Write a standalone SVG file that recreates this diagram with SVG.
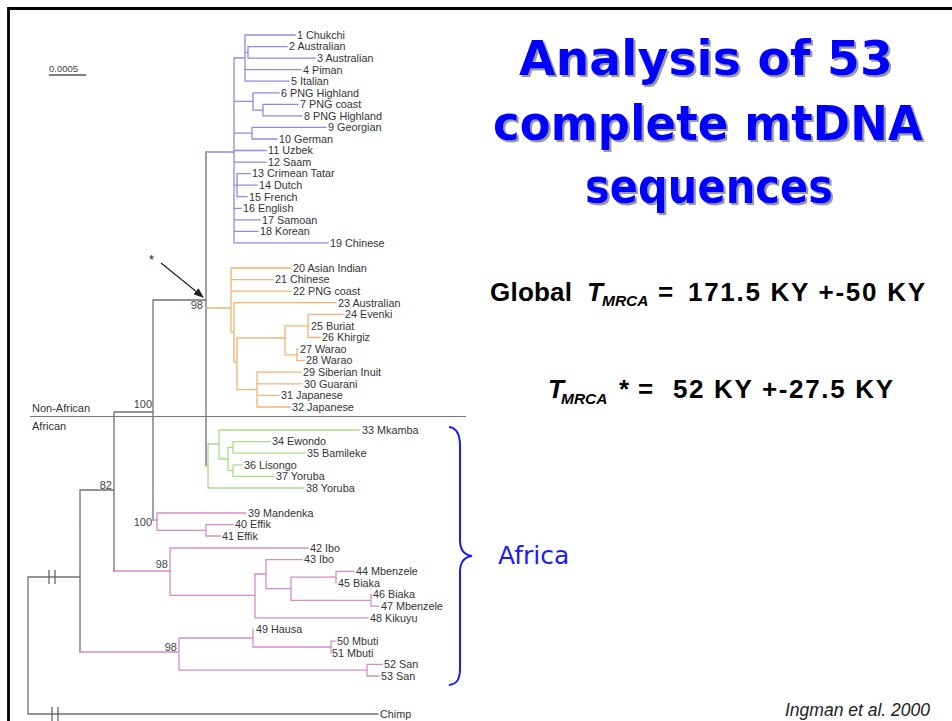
<svg xmlns="http://www.w3.org/2000/svg" width="952" height="721" viewBox="0 0 952 721">
<style>
.lf{font-family:"Liberation Sans",Arial,sans-serif;font-size:10.8px;fill:#333}
.bs{font-family:"Liberation Sans",Arial,sans-serif;font-size:11px;fill:#444;text-anchor:end}
.br{fill:none;stroke-width:1.3;stroke-linecap:square}
.gy{stroke:#707070}.bl{stroke:#8c8ce0}.or{stroke:#f6b274}.gr{stroke:#a8de8c}.pk{stroke:#d48ccb}
.tt{font-family:"Comic Sans MS","DejaVu Sans",sans-serif;font-weight:bold;font-size:48px;fill:#0000ff}
.eq{font-family:"Liberation Sans",Arial,sans-serif;font-weight:bold;font-size:26px;fill:#000}
.sub{font-family:"Liberation Sans",Arial,sans-serif;font-weight:bold;font-style:italic;font-size:15.5px;fill:#000}
</style>
<defs>
<marker id="ah" markerWidth="10" markerHeight="8" refX="9" refY="4" orient="auto" markerUnits="userSpaceOnUse">
<path d="M0,0 L10,4 L0,8 z" fill="#222"/>
</marker>
<filter id="sh" x="-5%" y="-10%" width="110%" height="130%">
<feOffset in="SourceAlpha" dx="2" dy="2" result="o"/>
<feFlood flood-color="#9a9a9a"/>
<feComposite in2="o" operator="in" result="s"/>
<feMerge><feMergeNode in="s"/><feMergeNode in="SourceGraphic"/></feMerge>
</filter>
</defs>
<rect width="952" height="721" fill="#fff"/>
<path d="M8.5,721 V8.5 H952" fill="none" stroke="#000" stroke-width="2.8"/>

<g id="scale">
<text x="49" y="72" font-family="Liberation Sans,Arial,sans-serif" font-size="9.5" fill="#444">0.0005</text>
<line x1="49" y1="75" x2="86" y2="75" stroke="#555" stroke-width="1.3"/>
</g>

<g id="connectors">
<path class="br gy" d="M206,152 V466 M153,300 H206 M153,300 V520 M114,412 H153 M114,412 V571 M80,490 H114 M80,490 V652 M28,577 H80 M28,577 V714 M28,714 H378"/>
<path d="M30,416.5 H466" stroke="#777" stroke-width="1.2"/>
<path class="br bl" d="M206,152 H234 M234,58 V242.9 M234,58 H245 M245,35 V81.2 M245,35 H295 M245,52.3 H248 M248,46.6 V58.1 M248,46.6 H287 M248,58.1 H315 M245,69.7 H301 M245,81.2 H289 M234,101.4 H253 M253,92.8 V110.1 M253,92.8 H279 M253,110.1 H263 M263,104.3 V115.9 M263,104.3 H298 M263,115.9 H302 M234,133.2 H252 M252,127.4 V139 M252,127.4 H326 M252,139 H277 M234,150.5 H266 M234,162.1 H266 M234,185.2 H237 M237,173.6 V196.7 M237,173.6 H250 M237,185.2 H257 M237,196.7 H247 M234,208.3 H241 M234,219.8 H260 M234,231.4 H258 M234,242.9 H328"/>
<path class="br or" d="M206,308 H231 M231,268 V332 M231,268 H291 M231,279.6 H273 M231,291.2 H291 M231,332 H234 M234,302.7 V362 M234,302.7 H336 M234,362 H237 M237,338 V389.6 M237,338 H285 M285,325.9 V354.9 M285,325.9 H308 M308,314.3 V337.5 M308,314.3 H343 M308,325.9 H309 M308,337.5 H320 M285,354.9 H297 M297,349.1 V360.6 M297,349.1 H298 M297,360.6 H304 M237,389.6 H257 M257,372.2 V407 M257,372.2 H301 M257,383.8 H302 M257,395.4 H279 M257,407 H290"/>
<path class="br gr" d="M206,466 H208 M208,444 V488 M208,444 H219 M219,430 V459 M219,430 H360 M219,459 H228 M228,447.4 V470.6 M228,447.4 H233 M233,441.6 V453.2 M233,441.6 H270 M233,453.2 H305 M228,470.6 H233 M233,464.8 V476.4 M233,464.8 H242 M233,476.4 H274 M208,488 H304"/>
<path class="br pk" d="M153,520 H157 M157,513 V530.3 M157,513 H246 M157,530.3 H206 M206,524.6 V536 M206,524.6 H233 M206,536 H220 M114,571 H170 M170,548 V595.4 M170,548 H308 M170,595.4 H255 M255,574 V617.8 M255,617.8 H368 M255,574 H266 M266,559.6 V588.7 M266,559.6 H302 M266,588.7 H291 M291,577.1 V600.3 M291,577.1 H336 M336,571.3 V582.9 M336,571.3 H354 M291,600.3 H371 M371,594.5 V606.2 M371,606.2 H379 M80,652 H179 M179,638 V670.2 M179,638 H253 M253,629.5 V647 M253,647 H331 M331,641.1 V652.8 M331,641.1 H335 M179,670.2 H367 M367,664.4 V676 M367,664.4 H382 M367,676 H379"/>
<g stroke="#666" stroke-width="1.3">
<line x1="49" y1="570" x2="49" y2="584"/><line x1="55" y1="570" x2="55" y2="584"/>
<line x1="52" y1="707" x2="52" y2="721"/><line x1="58" y1="707" x2="58" y2="721"/>
</g>
<line x1="161" y1="263" x2="203" y2="297" stroke="#222" stroke-width="1.2" marker-end="url(#ah)"/>
</g>

<g id="regions">
<text x="32" y="412" font-family="Liberation Sans,Arial,sans-serif" font-size="11" fill="#333">Non-African</text>
<text x="32" y="430" font-family="Liberation Sans,Arial,sans-serif" font-size="11" fill="#333">African</text>
</g>

<g id="bootstrap">
<text class="bs" x="203" y="309">98</text>
<text class="bs" x="152" y="408">100</text>
<text class="bs" x="112" y="489">82</text>
<text class="bs" x="152" y="526">100</text>
<text class="bs" x="168" y="568">98</text>
<text class="bs" x="177" y="651">98</text>
<text x="149" y="264" font-family="Liberation Sans,Arial,sans-serif" font-size="13" fill="#222">*</text>
</g>

<g id="leaves">
<g id="n1"><text class="lf" x="297" y="38.8">1 Chukchi</text></g>
<g id="n2"><text class="lf" x="289" y="50.4">2 Australian</text></g>
<g id="n3"><text class="lf" x="317" y="61.9">3 Australian</text></g>
<g id="n4"><text class="lf" x="303" y="73.5">4 Piman</text></g>
<g id="n5"><text class="lf" x="291" y="85">5 Italian</text></g>
<g id="n6"><text class="lf" x="281" y="96.6">6 PNG Highland</text></g>
<g id="n7"><text class="lf" x="300" y="108.1">7 PNG coast</text></g>
<g id="n8"><text class="lf" x="304" y="119.7">8 PNG Highland</text></g>
<g id="n9"><text class="lf" x="328" y="131.2">9 Georgian</text></g>
<g id="n10"><text class="lf" x="279" y="142.8">10 German</text></g>
<g id="n11"><text class="lf" x="268" y="154.3">11 Uzbek</text></g>
<g id="n12"><text class="lf" x="268" y="165.9">12 Saam</text></g>
<g id="n13"><text class="lf" x="252" y="177.4">13 Crimean Tatar</text></g>
<g id="n14"><text class="lf" x="259" y="189">14 Dutch</text></g>
<g id="n15"><text class="lf" x="249" y="200.5">15 French</text></g>
<g id="n16"><text class="lf" x="243" y="212.1">16 English</text></g>
<g id="n17"><text class="lf" x="262" y="223.6">17 Samoan</text></g>
<g id="n18"><text class="lf" x="260" y="235.2">18 Korean</text></g>
<g id="n19"><text class="lf" x="330" y="246.7">19 Chinese</text></g>
<g id="n20"><text class="lf" x="293" y="271.8">20 Asian Indian</text></g>
<g id="n21"><text class="lf" x="275" y="283.4">21 Chinese</text></g>
<g id="n22"><text class="lf" x="293" y="295">22 PNG coast</text></g>
<g id="n23"><text class="lf" x="338" y="306.5">23 Australian</text></g>
<g id="n24"><text class="lf" x="345" y="318.1">24 Evenki</text></g>
<g id="n25"><text class="lf" x="311" y="329.7">25 Buriat</text></g>
<g id="n26"><text class="lf" x="322" y="341.3">26 Khirgiz</text></g>
<g id="n27"><text class="lf" x="300" y="352.9">27 Warao</text></g>
<g id="n28"><text class="lf" x="306" y="364.4">28 Warao</text></g>
<g id="n29"><text class="lf" x="303" y="376">29 Siberian Inuit</text></g>
<g id="n30"><text class="lf" x="304" y="387.6">30 Guarani</text></g>
<g id="n31"><text class="lf" x="281" y="399.2">31 Japanese</text></g>
<g id="n32"><text class="lf" x="292" y="410.8">32 Japanese</text></g>
<g id="n33"><text class="lf" x="362" y="433.8">33 Mkamba</text></g>
<g id="n34"><text class="lf" x="272" y="445.4">34 Ewondo</text></g>
<g id="n35"><text class="lf" x="307" y="457">35 Bamileke</text></g>
<g id="n36"><text class="lf" x="244" y="468.6">36 Lisongo</text></g>
<g id="n37"><text class="lf" x="276" y="480.2">37 Yoruba</text></g>
<g id="n38"><text class="lf" x="306" y="491.8">38 Yoruba</text></g>
<g id="n39"><text class="lf" x="248" y="516.8">39 Mandenka</text></g>
<g id="n40"><text class="lf" x="235" y="528.4">40 Effik</text></g>
<g id="n41"><text class="lf" x="222" y="539.8">41 Effik</text></g>
<g id="n42"><text class="lf" x="310" y="551.8">42 Ibo</text></g>
<g id="n43"><text class="lf" x="304" y="563.4">43 Ibo</text></g>
<g id="n44"><text class="lf" x="356" y="575.1">44 Mbenzele</text></g>
<g id="n45"><text class="lf" x="338" y="586.7">45 Biaka</text></g>
<g id="n46"><text class="lf" x="373" y="598.3">46 Biaka</text></g>
<g id="n47"><text class="lf" x="381" y="610">47 Mbenzele</text></g>
<g id="n48"><text class="lf" x="370" y="621.6">48 Kikuyu</text></g>
<g id="n49"><text class="lf" x="256" y="633.3">49 Hausa</text></g>
<g id="n50"><text class="lf" x="337" y="644.9">50 Mbuti</text></g>
<g id="n51"><text class="lf" x="332" y="656.6">51 Mbuti</text></g>
<g id="n52"><text class="lf" x="384" y="668.2">52 San</text></g>
<g id="n53"><text class="lf" x="381" y="679.8">53 San</text></g>
<g id="chimp"><text class="lf" x="380" y="717.8">Chimp</text></g>
</g>

<g id="title" filter="url(#sh)">
<text class="tt" x="519" y="75" textLength="374" lengthAdjust="spacingAndGlyphs">Analysis of 53</text>
<text class="tt" x="493" y="140" textLength="430" lengthAdjust="spacingAndGlyphs">complete mtDNA</text>
<text class="tt" x="585" y="203" textLength="248" lengthAdjust="spacingAndGlyphs">sequences</text>
</g>

<g id="eq1">
<text class="eq" x="490" y="301" textLength="82">Global</text>
<text class="eq" x="587" y="301" font-style="italic">T</text>
<text class="sub" x="602" y="306">MRCA</text>
<text class="eq" x="658" y="301">=</text>
<text class="eq" x="688" y="301" textLength="237">171.5 KY +-50 KY</text>
</g>
<g id="eq2">
<text class="eq" x="548" y="398" font-style="italic">T</text>
<text class="sub" x="561" y="404">MRCA</text>
<text class="eq" x="619" y="398">*</text>
<text class="eq" x="638" y="398">=</text>
<text class="eq" x="673" y="398" textLength="220">52 KY +-27.5 KY</text>
</g>

<g id="africa">
<path d="M449,427 C458,428 460,436 460,446 V540 C460,550 464,555 472,556 C464,557 460,562 460,572 V668 C460,678 458,684 449,685" fill="none" stroke="#1a1aff" stroke-width="2"/>
<text x="498" y="564" font-family="'Comic Sans MS','DejaVu Sans',sans-serif" font-size="25" fill="#1a1aff">Africa</text>
</g>

<text x="785" y="716" font-family="Liberation Sans,Arial,sans-serif" font-style="italic" font-size="17.5" fill="#222">Ingman et al. 2000</text>
</svg>
